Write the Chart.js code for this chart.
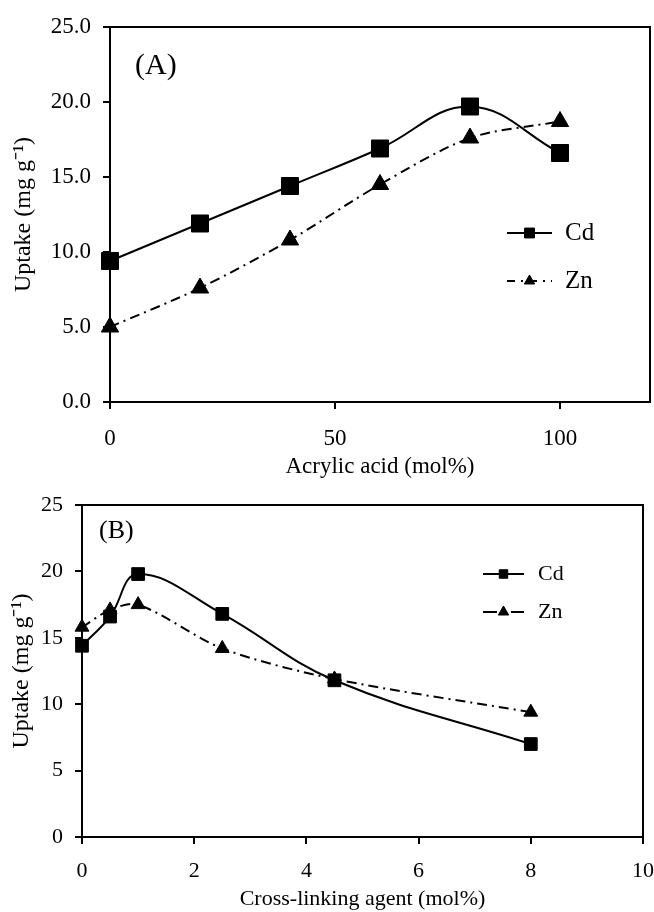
<!DOCTYPE html>
<html>
<head>
<meta charset="utf-8">
<script src="https://cdn.jsdelivr.net/npm/chart.js@4.4.1/dist/chart.umd.min.js"></script>
<style>
  html, body { margin: 0; padding: 0; background: #fff; }
  #wrap { position: relative; width: 654px; height: 912px; overflow: hidden; }
  canvas { position: absolute; left: 0; }
  #chartA { top: 0; }
  #chartB { top: 470px; }
</style>
</head>
<body>
<div id="wrap">
  <canvas id="chartA" width="654" height="490"></canvas>
  <canvas id="chartB" width="654" height="442"></canvas>
</div>
<script>
// panel A - uptake vs acrylic acid content
var acrylicAcid = [0, 20, 40, 60, 80, 100];
var cdUptakeA = [9.4, 11.9, 14.4, 16.9, 19.7, 16.6];
var znUptakeA = [5.0, 7.6, 10.8, 14.5, 17.6, 18.7];
var ticksXA = [0, 50, 100];

// panel B - uptake vs cross-linking agent
var crossLinker = [0, 0.5, 1, 2.5, 4.5, 8];
var cdUptakeB = [14.4, 16.6, 19.8, 16.8, 11.8, 7.0];
var znUptakeB = [15.8, 17.1, 17.5, 14.2, 11.9, 9.4];

var metals = ['Cd', 'Zn'];

var SERIF = '"Liberation Serif", "Times New Roman", serif';
Chart.defaults.font.family = SERIF;
Chart.defaults.color = '#000';

function toPoints(xs, ys) {
  return xs.map(function (x, i) { return {x: x, y: ys[i]}; });
}

// top + right frame lines, the axes give the other two
var frame = {
  id: 'frame',
  beforeDatasetsDraw: function (chart) {
    var a = chart.chartArea, ctx = chart.ctx;
    ctx.save();
    ctx.strokeStyle = '#000';
    ctx.lineWidth = 2;
    ctx.beginPath();
    ctx.moveTo(a.left, a.top);
    ctx.lineTo(a.right, a.top);
    ctx.lineTo(a.right, a.bottom);
    ctx.stroke();
    ctx.restore();
  }
};

// legend inside the plot + the (A)/(B) tag
var legendBox = {
  id: 'legendBox',
  afterDraw: function (chart, args, opts) {
    var ctx = chart.ctx;
    chart.data.datasets.forEach(function (ds, i) {
      var y = opts.y + i * opts.rowGap;
      var mid = opts.x + opts.lineLen / 2;
      ctx.save();
      ctx.strokeStyle = '#000';
      ctx.lineWidth = 2;
      ctx.setLineDash(opts.dash[i]);
      ctx.beginPath();
      ctx.moveTo(opts.x, y);
      ctx.lineTo(opts.x + opts.lineLen, y);
      ctx.stroke();
      ctx.setLineDash([]);
      ctx.fillStyle = '#000';
      ctx.lineWidth = 1;
      Chart.helpers.drawPoint(ctx, {pointStyle: ds.pointStyle, radius: opts.radius[i], borderWidth: 1, rotation: 0}, mid, y);
      ctx.font = opts.fontSize + 'px ' + SERIF;
      ctx.textBaseline = 'middle';
      ctx.textAlign = 'left';
      ctx.fillText(ds.label, opts.textX, y);
      ctx.restore();
    });
    ctx.save();
    ctx.fillStyle = '#000';
    ctx.font = opts.tag.size + 'px ' + SERIF;
    ctx.textBaseline = 'middle';
    ctx.fillText(opts.tag.text, opts.tag.x, opts.tag.y);
    ctx.restore();
  }
};

function makePanel(id, cfg) {
  return new Chart(document.getElementById(id), {
    type: 'line',
    data: {
      datasets: [{
        label: metals[0],
        data: toPoints(cfg.xs, cfg.cd),
        borderColor: '#000',
        backgroundColor: '#000',
        borderWidth: 2,
        pointStyle: 'rect',
        pointRadius: cfg.rectR,
        pointBorderWidth: 1,
        tension: 0.4,
        clip: false
      }, {
        label: metals[1],
        data: toPoints(cfg.xs, cfg.zn),
        borderColor: '#000',
        backgroundColor: '#000',
        borderWidth: 2,
        borderDash: [10, 5, 2, 5],
        pointStyle: 'triangle',
        pointRadius: cfg.triR,
        pointBorderWidth: 1,
        tension: 0.3,
        clip: false
      }]
    },
    options: {
      responsive: false,
      animation: false,
      // autoPadding would reserve room for the big end markers
      layout: {padding: cfg.pad, autoPadding: false},
      plugins: {
        legend: {display: false},
        tooltip: {enabled: false},
        legendBox: cfg.legend
      },
      scales: {
        x: {
          type: 'linear',
          min: 0,
          max: cfg.xMax,
          afterFit: function (s) {
            s.height = cfg.xAxisH;
            s.paddingLeft = 0;
            s.paddingRight = 0;
          },
          afterBuildTicks: function (s) {
            if (cfg.xTicks) s.ticks = cfg.xTicks.map(function (v) { return {value: v}; });
          },
          ticks: {stepSize: cfg.xStep, padding: cfg.xTickPad, font: {size: cfg.tickSize}},
          grid: {drawOnChartArea: false, tickLength: 7, color: '#000', lineWidth: 2},
          border: {color: '#000', width: 2},
          title: {display: true, text: cfg.xTitle, font: {size: cfg.xTitleSize, lineHeight: 1}, padding: {top: 0, bottom: cfg.xTitlePad}}
        },
        y: {
          min: 0,
          max: 25,
          afterFit: function (s) {
            s.width = cfg.yAxisW;
            s.paddingTop = 0;
            s.paddingBottom = 0;
          },
          ticks: {
            stepSize: 5,
            padding: 12,
            font: {size: cfg.tickSize},
            callback: function (v) { return cfg.decimals ? v.toFixed(1) : v; }
          },
          grid: {drawOnChartArea: false, tickLength: 7, color: '#000', lineWidth: 2},
          border: {color: '#000', width: 2},
          title: {display: true, text: 'Uptake (mg g\u207B\u00B9)', font: {size: 24, lineHeight: 1}, padding: {top: cfg.yTitlePad, bottom: 0}}
        }
      }
    },
    plugins: [frame, legendBox]
  });
}

makePanel('chartA', {
  xs: acrylicAcid, cd: cdUptakeA, zn: znUptakeA,
  xMax: 120, xStep: 50, xTicks: ticksXA, decimals: true,
  rectR: 12, triR: 10, tickSize: 23,
  pad: {top: 27, right: 4, left: 0, bottom: 0},
  xAxisH: 88, yAxisW: 110, xTickPad: 16, xTitlePad: 12, yTitlePad: 12,
  xTitle: 'Acrylic acid (mol%)', xTitleSize: 23,
  legend: {
    x: 507, y: 233, rowGap: 48, lineLen: 45, textX: 565, fontSize: 25,
    radius: [7, 6], dash: [[], [8, 6, 2, 6]],
    tag: {text: '(A)', x: 135, y: 66, size: 30}
  }
});

makePanel('chartB', {
  xs: crossLinker, cd: cdUptakeB, zn: znUptakeB,
  xMax: 10, xStep: 2, xTicks: null, decimals: false,
  rectR: 9, triR: 8, tickSize: 22,
  pad: {top: 35, right: 11, left: 0, bottom: 0},
  xAxisH: 75, yAxisW: 82, xTickPad: 14, xTitlePad: 2, yTitlePad: 10,
  xTitle: 'Cross-linking agent (mol%)', xTitleSize: 22,
  legend: {
    x: 483, y: 104, rowGap: 38, lineLen: 41, textX: 538, fontSize: 22,
    radius: [6, 6], dash: [[], [14, 6, 2, 6]],
    tag: {text: '(B)', x: 99, y: 61, size: 26}
  }
});
</script>
</body>
</html>
